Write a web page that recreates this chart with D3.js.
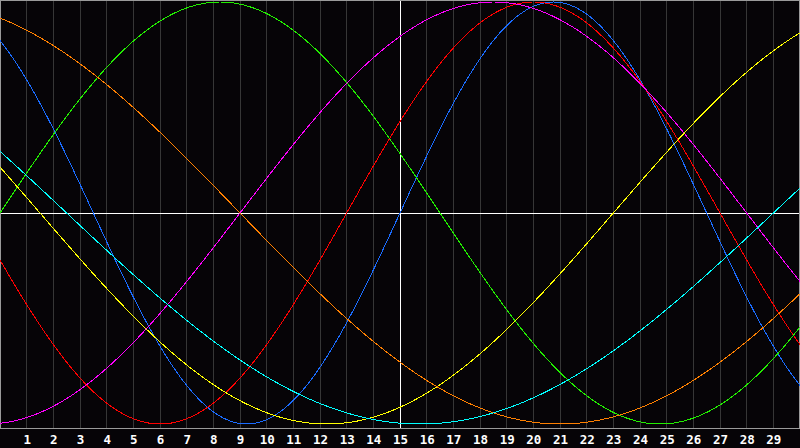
<!DOCTYPE html>
<html>
<head>
<meta charset="utf-8">
<script src="https://cdn.jsdelivr.net/npm/d3@7"></script>
<style>
  html, body { margin: 0; padding: 0; background: #060407; }
  svg { display: block; }
</style>
</head>
<body>
<svg id="chart" width="800" height="448"></svg>
<script>
// ---- data ----
const dayLabels = ["1","2","3","4","5","6","7","8","9","10","11","12","13","14","15","16","17","18","19","20","21","22","23","24","25","26","27","28","29"];
const dayTicks = [1,2,3,4,5,6,7,8,9,10,11,12,13,14,15,16,17,18,19,20,21,22,23,24,25,26,27,28,29];
const todayDay = 15;
const cycleNames   = ["Physical", "Emotional", "Intellectual", "Intuitive", "Aesthetic", "Awareness", "Spiritual"];
const cyclePeriods = [23, 28, 33, 38, 43, 48, 53];           // days
const cycleRiseDay = [15, 13, 0, 9, 23, -15, 29];            // day where the cycle crosses zero going up
const cycleColors  = ["#1a6cff", "#ff0000", "#22ee00", "#ff00ff", "#ffff00", "#ff8000", "#00ffff"];

// ---- layout ----
const W = 800, plotH = 428;
const svg = d3.select("#chart");
const x = d3.scaleLinear().domain([0, 30]).range([0, W]);
const y = d3.scaleLinear().domain([-1, 1]).range([424, 2]);

svg.append("rect").attr("width", W).attr("height", 448).attr("fill", "#060407");

// grid lines
svg.append("g").selectAll("line").data(dayTicks).join("line")
  .attr("x1", d => Math.floor(x(d)) + 0.5).attr("x2", d => Math.floor(x(d)) + 0.5)
  .attr("y1", 0).attr("y2", plotH)
  .attr("stroke", "#363636").attr("stroke-width", 1)
  .attr("shape-rendering", "crispEdges");

// border
svg.append("path")
  .attr("d", `M0.5,${plotH + 0.5}V0.5H${W - 0.5}V${plotH + 0.5}H0.5`)
  .attr("fill", "none").attr("stroke", "#9a9a9a").attr("stroke-width", 1)
  .attr("shape-rendering", "crispEdges");

// zero line and today line
svg.append("line")
  .attr("x1", 1).attr("x2", W - 1)
  .attr("y1", 213.5).attr("y2", 213.5)
  .attr("stroke", "#ffffff").attr("shape-rendering", "crispEdges");
svg.append("line")
  .attr("x1", Math.floor(x(todayDay)) + 0.5).attr("x2", Math.floor(x(todayDay)) + 0.5)
  .attr("y1", 1).attr("y2", plotH)
  .attr("stroke", "#ffffff").attr("shape-rendering", "crispEdges");

// cycles
const samples = d3.range(0, 30.0001, 0.05);
const line = d3.line().x(d => x(d[0])).y(d => y(d[1]));
const g = svg.append("g");
cyclePeriods.forEach((p, i) => {
  const pts = samples.map(t => [t, Math.sin(2 * Math.PI * (t - cycleRiseDay[i]) / p)]);
  g.append("path")
    .attr("d", line(pts))
    .attr("fill", "none")
    .attr("stroke", cycleColors[i])
    .attr("stroke-width", 1)
    .attr("shape-rendering", "crispEdges")
    .append("title").text(cycleNames[i]);
});

// bottom labels
const axis = d3.axisBottom(x).tickValues(dayTicks).tickFormat((d, i) => dayLabels[i]).tickSize(0).tickPadding(0);
const ax = svg.append("g").attr("transform", `translate(0,${plotH})`).call(axis);
ax.select(".domain").remove();
ax.selectAll("text")
  .attr("y", 15.5).attr("dy", null)
  .attr("fill", "#ffffff")
  .attr("font-family", "'DejaVu Sans Mono', monospace")
  .attr("font-weight", "bold")
  .attr("font-size", "12.5px");
</script>
</body>
</html>
